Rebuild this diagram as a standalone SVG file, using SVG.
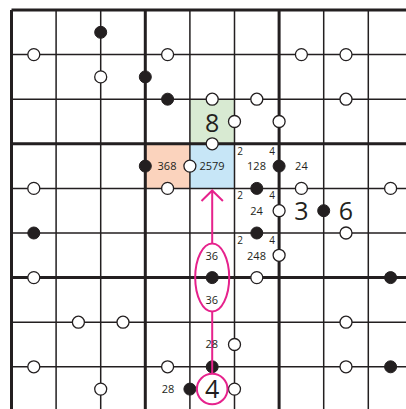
<svg xmlns="http://www.w3.org/2000/svg" width="406" height="409" viewBox="0 0 406 409">
<style>
.thin{stroke:#231f20;stroke-width:1.5;fill:none}
.thick{stroke:#231f20;stroke-width:3;fill:none}
.w{fill:#fff;stroke:#231f20;stroke-width:1.3}
.b{fill:#231f20;stroke:#231f20;stroke-width:1}
.s{font-family:"Open Sans","Liberation Sans",sans-serif;font-size:11px;fill:#231f20;text-anchor:middle}
.c{font-family:"Open Sans","Liberation Sans",sans-serif;font-size:10px;fill:#231f20;text-anchor:middle}
.big{font-family:"Open Sans","Liberation Sans",sans-serif;font-size:25px;fill:#231f20;text-anchor:middle}
.m{stroke:#e6228c;stroke-width:2;fill:none}
</style>
<defs>
<circle id="wd" r="6" class="w"/>
<circle id="bd" r="6" class="b"/>
</defs>
<rect width="406" height="409" fill="#fff"/>
<g id="cells">
<rect id="cell-green" x="189.9" y="99.2" width="44.6" height="44.6" fill="#d8ead2"/>
<rect id="cell-salmon" x="145.3" y="143.8" width="44.6" height="44.6" fill="#fbd3bd"/>
<rect id="cell-blue" x="189.9" y="143.8" width="44.6" height="44.6" fill="#c7e6f7"/>
</g>
<g id="grid">
<path class="thin" d="M56.1 10V412M100.7 10V412M189.9 10V412M234.5 10V412M323.7 10V412M368.3 10V412M11.5 54.6H413M11.5 99.2H413M11.5 188.4H413M11.5 233H413M11.5 322.2H413M11.5 366.8H413"/>
<path class="thick" d="M11.5 10V412M145.3 10V412M279.1 10V412M412.9 10V412M11.5 10H413M11.5 143.8H413M11.5 277.6H413M11.5 411.4H413"/>
</g>
<g id="dots">
<use href="#bd" x="100.7" y="32.3"/>
<use href="#wd" x="33.8" y="54.6"/>
<use href="#wd" x="167.6" y="54.6"/>
<use href="#wd" x="301.4" y="54.6"/>
<use href="#wd" x="346" y="54.6"/>
<use href="#wd" x="100.7" y="76.9"/>
<use href="#bd" x="145.3" y="76.9"/>
<use href="#bd" x="167.6" y="99.2"/>
<use href="#wd" x="212.2" y="99.2"/>
<use href="#wd" x="256.8" y="99.2"/>
<use href="#wd" x="346" y="99.2"/>
<use href="#wd" x="234.5" y="121.5"/>
<use href="#wd" x="279.1" y="121.5"/>
<use href="#wd" x="212.2" y="143.8"/>
<use href="#bd" x="145.3" y="166.1"/>
<use href="#wd" x="189.9" y="166.1"/>
<use href="#bd" x="279.1" y="166.1"/>
<use href="#wd" x="33.8" y="188.4"/>
<use href="#wd" x="167.6" y="188.4"/>
<use href="#bd" x="256.8" y="188.4"/>
<use href="#wd" x="301.4" y="188.4"/>
<use href="#wd" x="390.6" y="188.4"/>
<use href="#wd" x="279.1" y="210.7"/>
<use href="#bd" x="323.7" y="210.7"/>
<use href="#bd" x="33.8" y="233"/>
<use href="#bd" x="256.8" y="233"/>
<use href="#wd" x="346" y="233"/>
<use href="#wd" x="279.1" y="255.3"/>
<use href="#wd" x="33.8" y="277.6"/>
<use href="#bd" x="212.2" y="277.6"/>
<use href="#wd" x="256.8" y="277.6"/>
<use href="#bd" x="390.6" y="277.6"/>
<use href="#wd" x="78.4" y="322.2"/>
<use href="#wd" x="123" y="322.2"/>
<use href="#wd" x="346" y="322.2"/>
<use href="#wd" x="234.5" y="344.5"/>
<use href="#wd" x="33.8" y="366.8"/>
<use href="#wd" x="167.6" y="366.8"/>
<use href="#bd" x="212.2" y="366.8"/>
<use href="#wd" x="346" y="366.8"/>
<use href="#bd" x="390.6" y="366.8"/>
<use href="#wd" x="100.7" y="389.1"/>
<use href="#bd" x="189.9" y="389.1"/>
<use href="#wd" x="234.5" y="389.1"/>
</g>
<g id="connectors">
<path class="m" d="M212.2 243.6V190.5M201.5 201L212.2 190.5L222.9 201"/>
<path class="m" d="M212.2 311.6V373.5"/>
</g>
<g id="ellipse-36">
<ellipse class="m" cx="212.2" cy="277.6" rx="17" ry="34"/>
<text class="s" x="211.7" y="260">36</text>
<text class="s" x="211.7" y="304">36</text>
</g>
<g id="given-4">
<circle class="m" cx="212.2" cy="389" r="15.3"/>
<text class="big" x="212.2" y="397.5">4</text>
</g>
<g id="texts">
<text class="big" x="212.2" y="131.5">8</text>
<text class="s" x="167" y="170">368</text>
<text class="s" x="212" y="170">2579</text>
<text class="c" x="240" y="154.5">2</text>
<text class="c" x="272" y="154.5">4</text>
<text class="s" x="256.5" y="170">128</text>
<text class="s" x="301.4" y="170">24</text>
<text class="c" x="240" y="199">2</text>
<text class="c" x="272" y="199">4</text>
<text class="s" x="256.5" y="214.5">24</text>
<text class="big" x="301.4" y="220">3</text>
<text class="big" x="346" y="220">6</text>
<text class="c" x="240" y="244">2</text>
<text class="c" x="272" y="244">4</text>
<text class="s" x="256.5" y="260">248</text>
<text class="s" x="211.7" y="348">28</text>
<text class="s" x="168" y="393">28</text>
</g>
</svg>
